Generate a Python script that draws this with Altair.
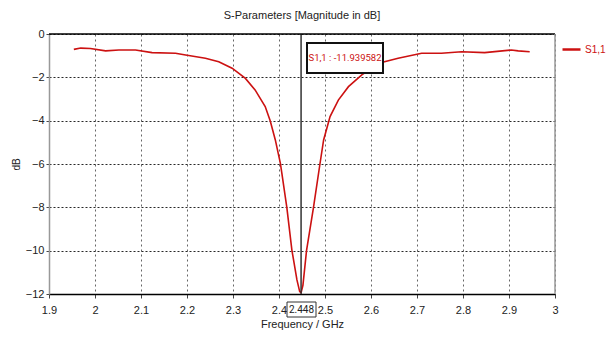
import altair as alt
import pandas as pd

freq = [1.954, 1.969, 1.990, 2.023, 2.052, 2.088, 2.124, 2.175, 2.197, 2.240, 2.269,
        2.298, 2.327, 2.348, 2.370, 2.381, 2.392, 2.403, 2.406, 2.417, 2.428, 2.439,
        2.445, 2.448, 2.452, 2.460, 2.475, 2.489, 2.497, 2.511, 2.529, 2.551, 2.580,
        2.600, 2.623, 2.659, 2.710, 2.753, 2.797, 2.847, 2.905, 2.920, 2.945]
s11 = [-0.71, -0.65, -0.67, -0.78, -0.74, -0.74, -0.86, -0.89, -0.97, -1.12, -1.28,
       -1.58, -2.05, -2.58, -3.35, -4.02, -4.89, -5.97, -6.40, -8.0, -9.97, -11.35,
       -11.89, -11.94, -11.6, -9.97, -8.0, -6.0, -4.89, -3.81, -3.05, -2.43, -1.89,
       -1.60, -1.32, -1.12, -0.89, -0.89, -0.82, -0.86, -0.74, -0.78, -0.82]
x_ticks = [1.9, 2.0, 2.1, 2.2, 2.3, 2.4, 2.5, 2.6, 2.7, 2.8, 2.9, 3.0]
y_ticks = [0, -2, -4, -6, -8, -10, -12]
marker_f = 2.448
marker_db = -11.939582
marker_text = "S1,1 : -11.939582"
series_name = "S1,1"

FONT = "Liberation Sans"
RED = "#cc1111"

df = pd.DataFrame({"f": freq, "db": s11, "s": series_name})

xs = alt.Scale(domain=[1.9, 3.0], nice=False, zero=False)
ys = alt.Scale(domain=[-12, 0], nice=False, zero=False)

line = alt.Chart(df).mark_line(strokeWidth=1.6, clip=True).encode(
    x=alt.X("f:Q", scale=xs,
            axis=alt.Axis(values=x_ticks, title="Frequency / GHz", grid=True,
                          gridDash=[2, 3], gridColor="#555", gridOpacity=0.9,
                          labelExpr="datum.value == 2 ? '2' : datum.value == 3 ? '3' : format(datum.value, '.1f')",
                          domainColor="#000", domainWidth=1.5, tickColor="#444", tickSize=4,
                          labelPadding=6, labelFontSize=11, titleFontSize=11,
                          titleFontWeight="normal", labelFlush=False,
                          labelColor="#222", titleColor="#222", titlePadding=3)),
    y=alt.Y("db:Q", scale=ys,
            axis=alt.Axis(values=y_ticks, title="dB", grid=True,
                          gridDash=[2, 2], gridColor="#111", gridOpacity=0.9,
                          domainColor="#999", domainWidth=1.5, tickColor="#444", tickSize=3,
                          labelPadding=2, labelFontSize=11, titleFontSize=10,
                          titleFontWeight="normal", labelFlush=False,
                          labelColor="#222", titleColor="#222", titlePadding=4)),
    color=alt.Color("s:N", scale=alt.Scale(domain=[series_name], range=[RED]),
                    legend=alt.Legend(title=None, orient="none", legendX=512, legendY=5,
                                      symbolType="stroke", symbolStrokeWidth=2.5,
                                      symbolSize=324, labelOffset=3, labelFontSize=10,
                                      labelColor=RED, labelFont=FONT)),
)

mk = pd.DataFrame({"f": [marker_f], "db": [marker_db], "t": [marker_text],
                   "ft": [str(marker_f)]})

vrule = alt.Chart(mk).mark_rule(color="#333", strokeWidth=1.5).encode(
    x="f:Q", y=alt.value(0), y2=alt.value(260))

topline = alt.Chart(mk).mark_rule(color="#000", strokeWidth=1.5).encode(
    x=alt.value(0), x2=alt.value(506), y=alt.value(0))
rightline = alt.Chart(mk).mark_rule(color="#999", strokeWidth=1.5).encode(
    x=alt.value(506), y=alt.value(0), y2=alt.value(260))

box = alt.Chart(mk).mark_rect(fill="white", stroke="#111", strokeWidth=2).encode(
    x=alt.value(258), x2=alt.value(334), y=alt.value(9), y2=alt.value(39))
boxtext = alt.Chart(mk).mark_text(color=RED, font="Roboto", fontSize=9.5, align="center",
                                  baseline="middle").encode(
    x=alt.value(296), y=alt.value(24), text="t:N")

fbox = alt.Chart(mk).mark_rect(fill="white", stroke="#333", strokeWidth=1).encode(
    x=alt.value(238), x2=alt.value(267), y=alt.value(268), y2=alt.value(283))
ftext = alt.Chart(mk).mark_text(color="#222", font="Roboto", fontSize=10, align="center",
                                baseline="middle").encode(
    x=alt.value(252.5), y=alt.value(275.5), text="ft:N")

chart = alt.layer(line, vrule, topline, rightline, box, boxtext, fbox, ftext).properties(
    width=506, height=260,
    title=alt.TitleParams("S-Parameters [Magnitude in dB]", fontSize=11, font=FONT,
                          fontWeight="normal", color="#222", offset=7),
    padding={"left": 41, "top": 26, "right": 51, "bottom": 38},
    autosize=alt.AutoSizeParams(type="none"),
).configure_view(stroke=None).configure_axis(labelFont=FONT, titleFont=FONT)

chart.save("out.html", embed_options={"renderer": "svg", "actions": False})
